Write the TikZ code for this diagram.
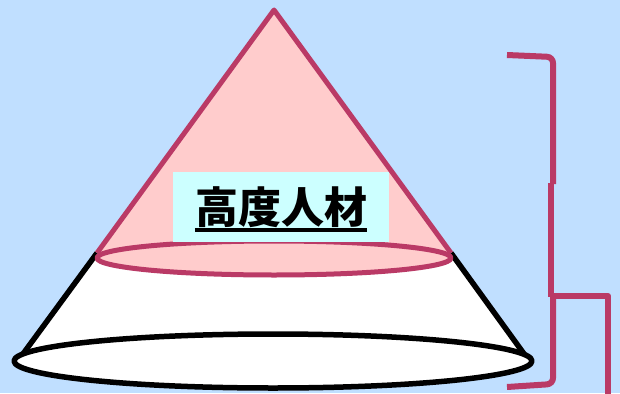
\documentclass[tikz,border=0pt]{standalone}
\usepackage{fontspec}
\newfontfamily\jpfont{Noto Sans CJK JP}
\usetikzlibrary{positioning}
\definecolor{bgblue}{HTML}{C0DFFF}
\definecolor{conepink}{HTML}{FFCCCC}
\definecolor{rimred}{HTML}{BA3A66}
\definecolor{lblcyan}{HTML}{CCFFFF}
\tikzset{
  rim/.style={line width=5pt,draw=rimred,line join=round},
  edge/.style={line width=5.5pt,draw=black,line join=round},
  lblbox/.style={fill=lblcyan,inner xsep=22pt,minimum height=70pt,
    font=\jpfont\bfseries\fontsize{43}{48}\selectfont}
}

\begin{document}
\begin{tikzpicture}[x=1pt,y=-1pt]
        % Background
        \fill[bgblue] (0,0) rectangle (620,393);
        \useasboundingbox (0,0) rectangle (620,393);
        % Lower part of the cone (white)
        \coordinate (apex) at (274,10);
        \coordinate (midL) at (97,253);
        \coordinate (midR) at (451,253);
        \coordinate (botL) at (20,358);
        \coordinate (botR) at (527,358);
        \fill[white] (midL) -- (botL) -- (botR) -- (midR) -- cycle;
        \draw[edge] (midL) -- (botL);
        \draw[edge] (midR) -- (botR);
        \draw[edge,fill=white] (273,361) ellipse [x radius=259,y radius=27];
        % Upper part of the cone (pink)
        \fill[conepink] (apex) -- (midL) -- (midR) -- cycle;
        \draw[rim] (midL) -- (apex) -- (midR);
        \draw[rim,fill=conepink] (274,258) ellipse [x radius=177,y radius=17];
        % Label
        \node[lblbox] (lbl) at (281,207) {高度人材};
        \draw[line width=4pt] ([xshift=22pt,yshift=-7pt]lbl.base west) -- ([xshift=-22pt,yshift=-7pt]lbl.base east);
        % Bracket on the right
        \draw[rim,line width=6pt,rounded corners=6pt] (507,55) -- (553,57) -- (553,184);
        \draw[rim,line width=6pt] (551,183) -- (551,297);
        \draw[rim,line width=6pt,rounded corners=6pt] (553,295) -- (553,384) -- (507,387);
        \draw[rim,line width=6pt] (551,296) -- (608,296) -- (608,395);
      \end{tikzpicture}
\end{document}
